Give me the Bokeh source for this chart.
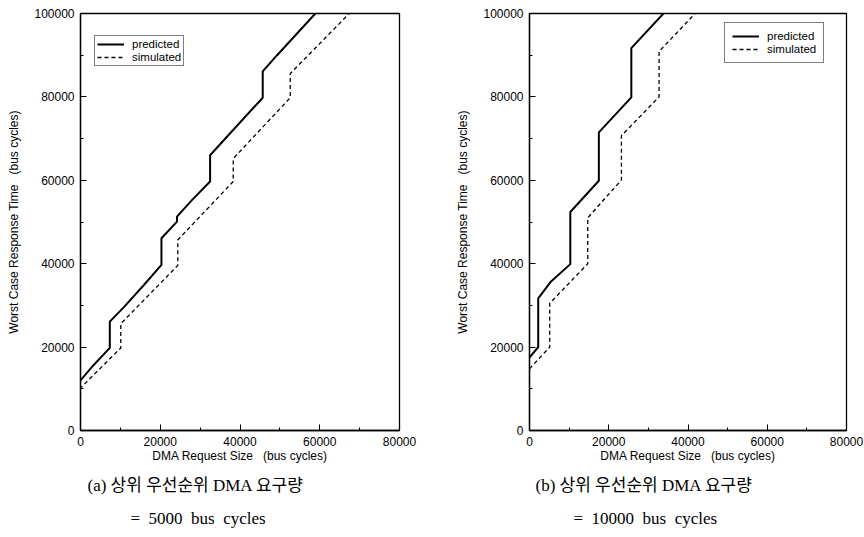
from bokeh.plotting import figure
from bokeh.models import Range1d, FixedTicker, NumeralTickFormatter, Title
from bokeh.layouts import row
from bokeh.embed import file_html
from bokeh.resources import INLINE

# ---- data ----
x_ticks = [0, 20000, 40000, 60000, 80000]
y_ticks = [0, 20000, 40000, 60000, 80000, 100000]

# (a) higher-priority DMA request = 5000 bus cycles
a_pred_x = [0, 3200, 7350, 7350, 11000, 15900, 20300, 20300, 24200, 24200, 28000, 32500, 32500, 36500, 45700, 45700, 49300, 58900]
a_pred_y = [12000, 15600, 19800, 26100, 29700, 34900, 39700, 46100, 50100, 51300, 55300, 59700, 66000, 70200, 79800, 86100, 90000, 100000]
a_sim_x = [0, 0, 10100, 10100, 24400, 24400, 38300, 38300, 52600, 52600, 67400]
a_sim_y = [8200, 10200, 19800, 25600, 39600, 45700, 59700, 65200, 79800, 85600, 100000]

# (b) higher-priority DMA request = 10000 bus cycles
b_pred_x = [0, 2200, 2200, 5300, 10300, 10300, 17500, 17500, 25700, 25700, 33800]
b_pred_y = [17500, 20000, 31700, 35600, 39900, 52400, 59900, 71500, 79900, 91700, 100000]
b_sim_x = [0, 5100, 5100, 14700, 14700, 23200, 23200, 32700, 32700, 41800]
b_sim_y = [14800, 20000, 30500, 40000, 51000, 60100, 70700, 80000, 90900, 100000]

x_label = "DMA Request Size \u00a0\u00a0(bus cycles)"
y_label = "Worst Case Response Time \u00a0\u00a0(bus cycles)"
caption_a = ["(a) 상위 우선순위 DMA 요구량", "=\u00a0 5000\u00a0 bus\u00a0 cycles"]
caption_b = ["(b) 상위 우선순위 DMA 요구량", "=\u00a0 10000\u00a0 bus\u00a0 cycles"]

AX_FONT = "Liberation Sans"
CAP_FONT = "Liberation Serif, Noto Sans CJK KR"


def make(px, py, sx, sy, caption, width, bl, br, legend_loc, legend_pad, cap_off):
    p = figure(width=width, height=537, output_backend="svg", toolbar_location=None,
               x_range=Range1d(0, 80000), y_range=Range1d(0, 100000),
               min_border_left=bl, min_border_right=br, min_border_top=13, min_border_bottom=107)
    p.background_fill_color = "white"
    p.border_fill_color = "white"
    p.outline_line_color = "black"
    p.outline_line_width = 1.3
    p.xgrid.visible = False
    p.ygrid.visible = False

    p.line(px, py, line_color="black", line_width=2, legend_label="predicted")
    p.line(sx, sy, line_color="black", line_width=1.3, line_dash="4 3", legend_label="simulated")

    for ax, ticks in ((p.xaxis[0], x_ticks), (p.yaxis[0], y_ticks)):
        ax.ticker = FixedTicker(ticks=ticks, minor_ticks=[t + 10000 for t in ticks[:-1]])
        ax.formatter = NumeralTickFormatter(format="0")
        ax.major_tick_in = 6
        ax.major_tick_out = 0
        ax.minor_tick_in = 3
        ax.minor_tick_out = 0
        ax.axis_line_color = "black"
        ax.axis_line_width = 1.3
        ax.major_label_text_font = AX_FONT
        ax.major_label_text_font_size = "12px"
        ax.major_label_text_color = "black"
        ax.major_label_standoff = 6
        ax.axis_label_text_font = AX_FONT
        ax.axis_label_text_font_size = "12px"
        ax.axis_label_text_font_style = "normal"
        ax.axis_label_text_color = "black"
    p.xaxis[0].axis_label = x_label
    p.xaxis[0].axis_label_standoff = 0
    p.yaxis[0].axis_label = y_label
    p.yaxis[0].axis_label_standoff = 10

    lg = p.legend[0]
    lg.location = legend_loc
    lg.border_line_color = "black"
    lg.border_line_width = 1
    lg.background_fill_alpha = 1
    lg.label_text_font = AX_FONT
    lg.label_text_font_size = "11.5px"
    lg.label_text_color = "black"
    lg.glyph_width = 27
    lg.glyph_height = 12
    lg.label_height = 12
    lg.label_standoff = 8
    lg.spacing = 1
    lg.padding = legend_pad
    lg.margin = 0

    for txt, off, standoff in zip(caption, cap_off, (16, 8)):
        p.add_layout(Title(text=txt, align="left", offset=off, standoff=standoff,
                           text_font=CAP_FONT, text_font_size="17px", text_color="black",
                           text_font_style="normal"), "below")
    return p


p1 = make(a_pred_x, a_pred_y, a_sim_x, a_sim_y, caption_a, 436, 80, 37, (14, 364), 2, (7, 50))
p2 = make(b_pred_x, b_pred_y, b_sim_x, b_sim_y, caption_b, 428, 93, 18, (195, 367), 7, (6, 44))

layout = row(p1, p2)
open("out.html", "w").write(file_html(layout, INLINE))
